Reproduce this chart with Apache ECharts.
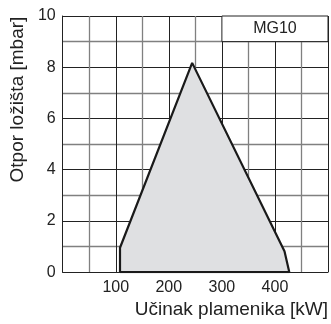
<!DOCTYPE html>
<html>
<head>
<meta charset="utf-8">
<style>
html,body{margin:0;padding:0;background:#fff;}
#c{width:331px;height:324px;}
</style>
<script src="https://cdn.jsdelivr.net/npm/echarts@6/dist/echarts.min.js"></script>
</head>
<body>
<div id="c"></div>
<script>
// Working field outline (x: kW, y: mbar)
const fieldX = [108, 108, 244, 418, 427, 108];
const fieldY = [0, 0.95, 8.17, 0.81, 0, 0];
const xTickLabels = [100, 200, 300, 400];
const yTickLabels = [0, 2, 4, 6, 8, 10];
const modelName = 'MG10';
const xTitle = 'Učinak plamenika [kW]';
const yTitle = 'Otpor ložišta [mbar]';

const chart = echarts.init(document.getElementById('c'), null, {renderer: 'canvas'});
const font = '"Liberation Sans", Arial, Helvetica, sans-serif';
const data = fieldX.map((x, i) => [x, fieldY[i]]);

chart.setOption({
  animation: false,
  backgroundColor: '#fff',
  grid: {left: 62, top: 16, right: 1.5, bottom: 46, show: false},
  xAxis: {
    type: 'value', min: 0, max: 500, interval: 100,
    name: xTitle, nameLocation: 'middle', nameGap: 23,
    nameTextStyle: {fontFamily: font, fontSize: 19, color: '#222', padding: [0, 0, 0, 72]},
    axisLine: {show: true, lineStyle: {color: '#222', width: 1}},
    axisTick: {show: false},
    axisLabel: {
      fontFamily: font, fontSize: 16, color: '#222', margin: 7,
      formatter: v => xTickLabels.includes(v) ? String(v) : ''
    },
    splitLine: {show: true, lineStyle: {color: '#222', width: 1}},
    minorTick: {show: false, splitNumber: 2},
    minorSplitLine: {show: true, lineStyle: {color: '#808080', width: 1.3}}
  },
  yAxis: {
    type: 'value', min: 0, max: 10, interval: 2,
    name: yTitle, nameLocation: 'middle', nameGap: 33, nameRotate: 90,
    nameTextStyle: {fontFamily: font, fontSize: 19, color: '#222', padding: [0, 0, 0, 89]},
    axisLine: {show: true, lineStyle: {color: '#222', width: 1}},
    axisTick: {show: false},
    axisLabel: {
      fontFamily: font, fontSize: 16, color: '#222', margin: 7,
      formatter: v => yTickLabels.includes(v) ? String(v) : ''
    },
    splitLine: {show: true, lineStyle: {color: '#222', width: 1}},
    minorTick: {show: false, splitNumber: 2},
    minorSplitLine: {show: true, lineStyle: {color: '#808080', width: 1.3}}
  },
  series: [{
    type: 'line',
    data: data,
    symbol: 'none',
    lineStyle: {color: '#1a1a1a', width: 2.2},
    areaStyle: {color: '#dfe0e2', opacity: 1, origin: 0},
    markArea: {
      silent: true,
      itemStyle: {color: '#fff', borderColor: '#222', borderWidth: 1},
      label: {show: true, position: 'inside', formatter: modelName, fontFamily: font, fontSize: 16, color: '#222'},
      data: [[{coord: [300, 9]}, {coord: [500, 10]}]]
    }
  }]
});
</script>
</body>
</html>
